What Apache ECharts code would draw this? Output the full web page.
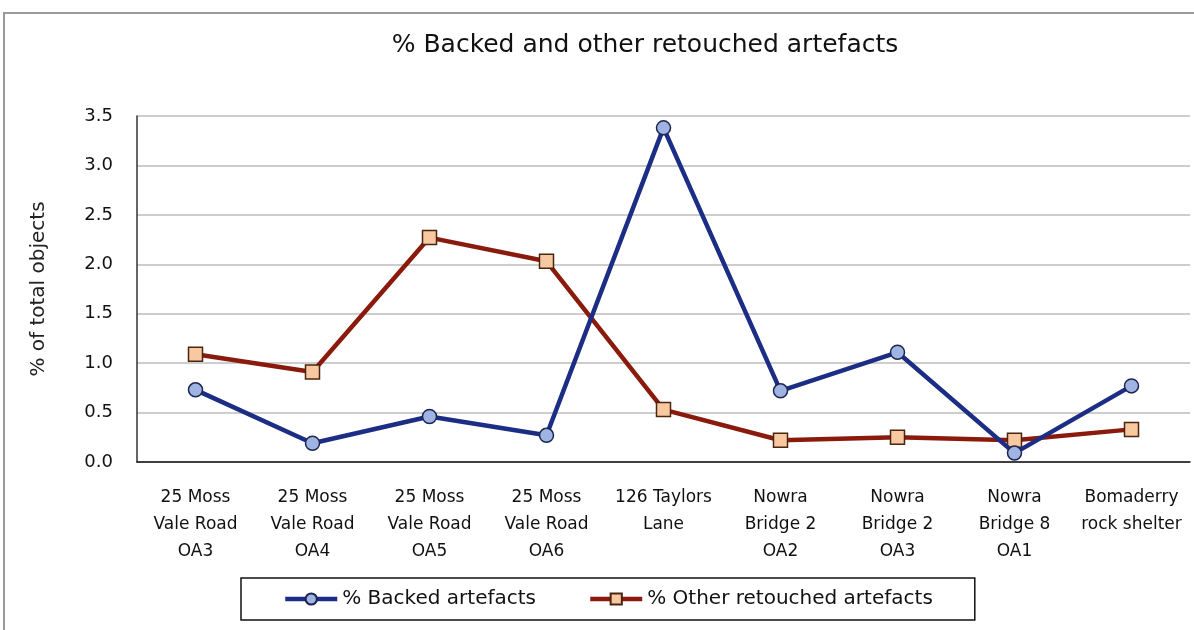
<!DOCTYPE html>
<html>
<head>
<meta charset="utf-8">
<title>% Backed and other retouched artefacts</title>
<script src="https://cdn.jsdelivr.net/npm/echarts@6/dist/echarts.min.js"></script>
<style>
  html, body { margin: 0; padding: 0; background: #fff; }
  #chart { width: 1194px; height: 630px; }
</style>
</head>
<body>
<div id="chart"></div>
<script>
// categories (site names, wrapped as in the original)
const categories = [
  '25 Moss\nVale Road\nOA3',
  '25 Moss\nVale Road\nOA4',
  '25 Moss\nVale Road\nOA5',
  '25 Moss\nVale Road\nOA6',
  '126 Taylors\nLane',
  'Nowra\nBridge 2\nOA2',
  'Nowra\nBridge 2\nOA3',
  'Nowra\nBridge 8\nOA1',
  'Bomaderry\nrock shelter'
];
// % of total objects
const backed = [0.73, 0.19, 0.46, 0.27, 3.38, 0.72, 1.11, 0.09, 0.77];
const otherRetouched = [1.09, 0.91, 2.27, 2.03, 0.53, 0.22, 0.25, 0.22, 0.33];
const yTicks = [0, 0.5, 1.0, 1.5, 2.0, 2.5, 3.0, 3.5];

const font = 'DejaVu Sans';
const chart = echarts.init(document.getElementById('chart'));

chart.setOption({
  animation: false,
  backgroundColor: '#fff',
  title: {
    text: '% Backed and other retouched artefacts',
    left: 640,
    top: 28,
    textAlign: 'center',
    textStyle: { fontFamily: font, fontSize: 25, fontWeight: 'normal', color: '#111' }
  },
  graphic: [{
    type: 'rect',
    shape: { x: 4, y: 13, width: 1300, height: 700 },
    style: { fill: 'none', stroke: '#9a9a9a', lineWidth: 2 },
    silent: true
  }],
  grid: { left: 137, right: 4, top: 116, bottom: 168 },
  legend: {
    left: 241,
    top: 578,
    padding: [11, 42],
    itemGap: 52,
    itemWidth: 52,
    itemHeight: 14,
    borderColor: '#111',
    borderWidth: 1.5,
    lineStyle: { width: 4.5 },
    textStyle: { fontFamily: font, fontSize: 20, color: '#111' },
    data: ['% Backed artefacts', '% Other retouched artefacts']
  },
  xAxis: {
    type: 'category',
    data: categories,
    boundaryGap: true,
    axisLine: { lineStyle: { color: '#111', width: 1.5 } },
    axisTick: { show: false },
    axisLabel: {
      interval: 0,
      margin: 22,
      fontFamily: font,
      fontSize: 17,
      lineHeight: 27,
      color: '#111'
    }
  },
  yAxis: {
    type: 'value',
    min: yTicks[0],
    max: yTicks[yTicks.length - 1],
    interval: 0.5,
    name: '% of total objects',
    nameLocation: 'middle',
    nameGap: 88,
    nameTextStyle: { fontFamily: font, fontSize: 20, color: '#222' },
    axisLine: { show: true, lineStyle: { color: '#333', width: 1.5 } },
    axisTick: { show: false },
    splitLine: { lineStyle: { color: '#bdbdbd', width: 1.5 } },
    axisLabel: {
      margin: 24,
      fontFamily: font,
      fontSize: 18,
      color: '#111',
      formatter: (v) => v.toFixed(1)
    }
  },
  series: [
    {
      name: '% Backed artefacts',
      type: 'line',
      data: backed,
      symbol: 'circle',
      symbolSize: 14,
      z: 3,
      lineStyle: { color: '#1c2d85', width: 4.5 },
      itemStyle: { color: '#9fb4e2', borderColor: '#1c2550', borderWidth: 1.5 }
    },
    {
      name: '% Other retouched artefacts',
      type: 'line',
      data: otherRetouched,
      symbol: 'rect',
      symbolSize: 14,
      z: 2,
      lineStyle: { color: '#8a1a0c', width: 4.5 },
      itemStyle: { color: '#f8c9a0', borderColor: '#4a2510', borderWidth: 1.5 }
    }
  ]
});
</script>
</body>
</html>
